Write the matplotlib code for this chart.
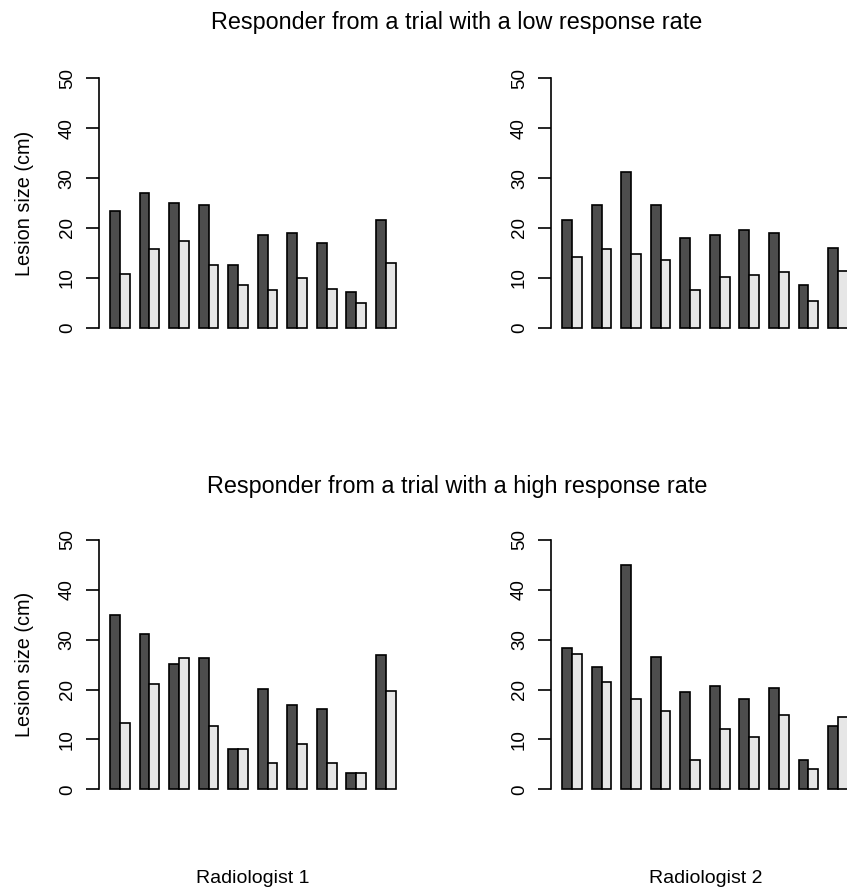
import numpy as np
import matplotlib.pyplot as plt

plt.rcParams['font.family'] = ['Liberation Sans', 'DejaVu Sans']

# lesion sizes (cm), 10 lesions per panel, two measurements each
low_r1_dark = [23.5, 27.1, 25.1, 24.7, 12.6, 18.6, 18.9, 17.0, 7.1, 21.6]
low_r1_light = [10.8, 15.8, 17.3, 12.6, 8.6, 7.5, 9.9, 7.7, 4.9, 13.0]
low_r2_dark = [21.6, 24.7, 31.2, 24.7, 17.9, 18.6, 19.5, 18.9, 8.6, 16.0]
low_r2_light = [14.2, 15.7, 14.8, 13.6, 7.5, 10.2, 10.5, 11.1, 5.3, 11.4]
high_r1_dark = [35.0, 31.2, 25.1, 26.3, 8.0, 20.1, 17.0, 16.1, 3.3, 26.9]
high_r1_light = [13.3, 21.1, 26.3, 12.6, 8.0, 5.2, 9.0, 5.2, 3.3, 19.8]
high_r2_dark = [28.4, 24.5, 44.9, 26.6, 19.5, 20.7, 18.2, 20.4, 5.9, 12.6]
high_r2_light = [27.2, 21.6, 18.2, 15.8, 5.9, 12.0, 10.5, 14.8, 4.0, 14.5]

titles = ["Responder from a trial with a low response rate",
          "Responder from a trial with a high response rate"]
xlabels = ["Radiologist 1", "Radiologist 2"]
ylab = "Lesion size (cm)"
yticks = [0, 10, 20, 30, 40, 50]

W, H = 847, 893
fig = plt.figure(figsize=(W / 100, H / 100), dpi=100)

unit = 9.85  # px per bar unit
ypx = 4.987  # px per cm


def panel(left_px, zero_px, dark, light, ylabel=False):
    width_px = 31.32 * unit
    bottom_px = zero_px + 2 * ypx
    height_px = 54 * ypx
    ax = fig.add_axes([left_px / W, (H - bottom_px) / H, width_px / W, height_px / H])
    n = len(dark)
    pos = 1 + 3 * np.arange(n)
    ax.bar(pos, dark, width=1, align='edge', color='#4D4D4D', edgecolor='black', linewidth=1.2)
    ax.bar(pos + 1, light, width=1, align='edge', color='#E6E6E6', edgecolor='black', linewidth=1.2)
    ax.set_xlim(-0.16, 31.16)
    ax.set_ylim(-2, 52)
    for s in ['top', 'right', 'bottom']:
        ax.spines[s].set_visible(False)
    ax.spines['left'].set_bounds(0, 50)
    ax.spines['left'].set_linewidth(1.2)
    ax.set_xticks([])
    ax.set_yticks(yticks)
    ax.tick_params(axis='y', length=9.4, width=1.2, pad=7, labelsize=13.5)
    plt.setp(ax.get_yticklabels(), rotation=90, va='center')
    if ylabel:
        fig.text(24 / W, (H - (zero_px - 25 * ypx)) / H, ylab, rotation=90,
                 ha='center', va='center', fontsize=14.3)
    return ax


panel(98.6, 327.7, low_r1_dark, low_r1_light, ylabel=True)
panel(550.7, 327.7, low_r2_dark, low_r2_light)
panel(98.6, 789.3, high_r1_dark, high_r1_light, ylabel=True)
panel(550.7, 789.3, high_r2_dark, high_r2_light)

fig.text(457 / W, (H - 29.5) / H, titles[0], ha='center', va='baseline', fontsize=16.8)
fig.text(457 / W, (H - 493.5) / H, titles[1], ha='center', va='baseline', fontsize=16.8)
fig.text(253 / W, (H - 882.7) / H, xlabels[0], ha='center', va='baseline', fontsize=14)
fig.text(706 / W, (H - 882.7) / H, xlabels[1], ha='center', va='baseline', fontsize=14)

fig.savefig('out.png', dpi=100)
